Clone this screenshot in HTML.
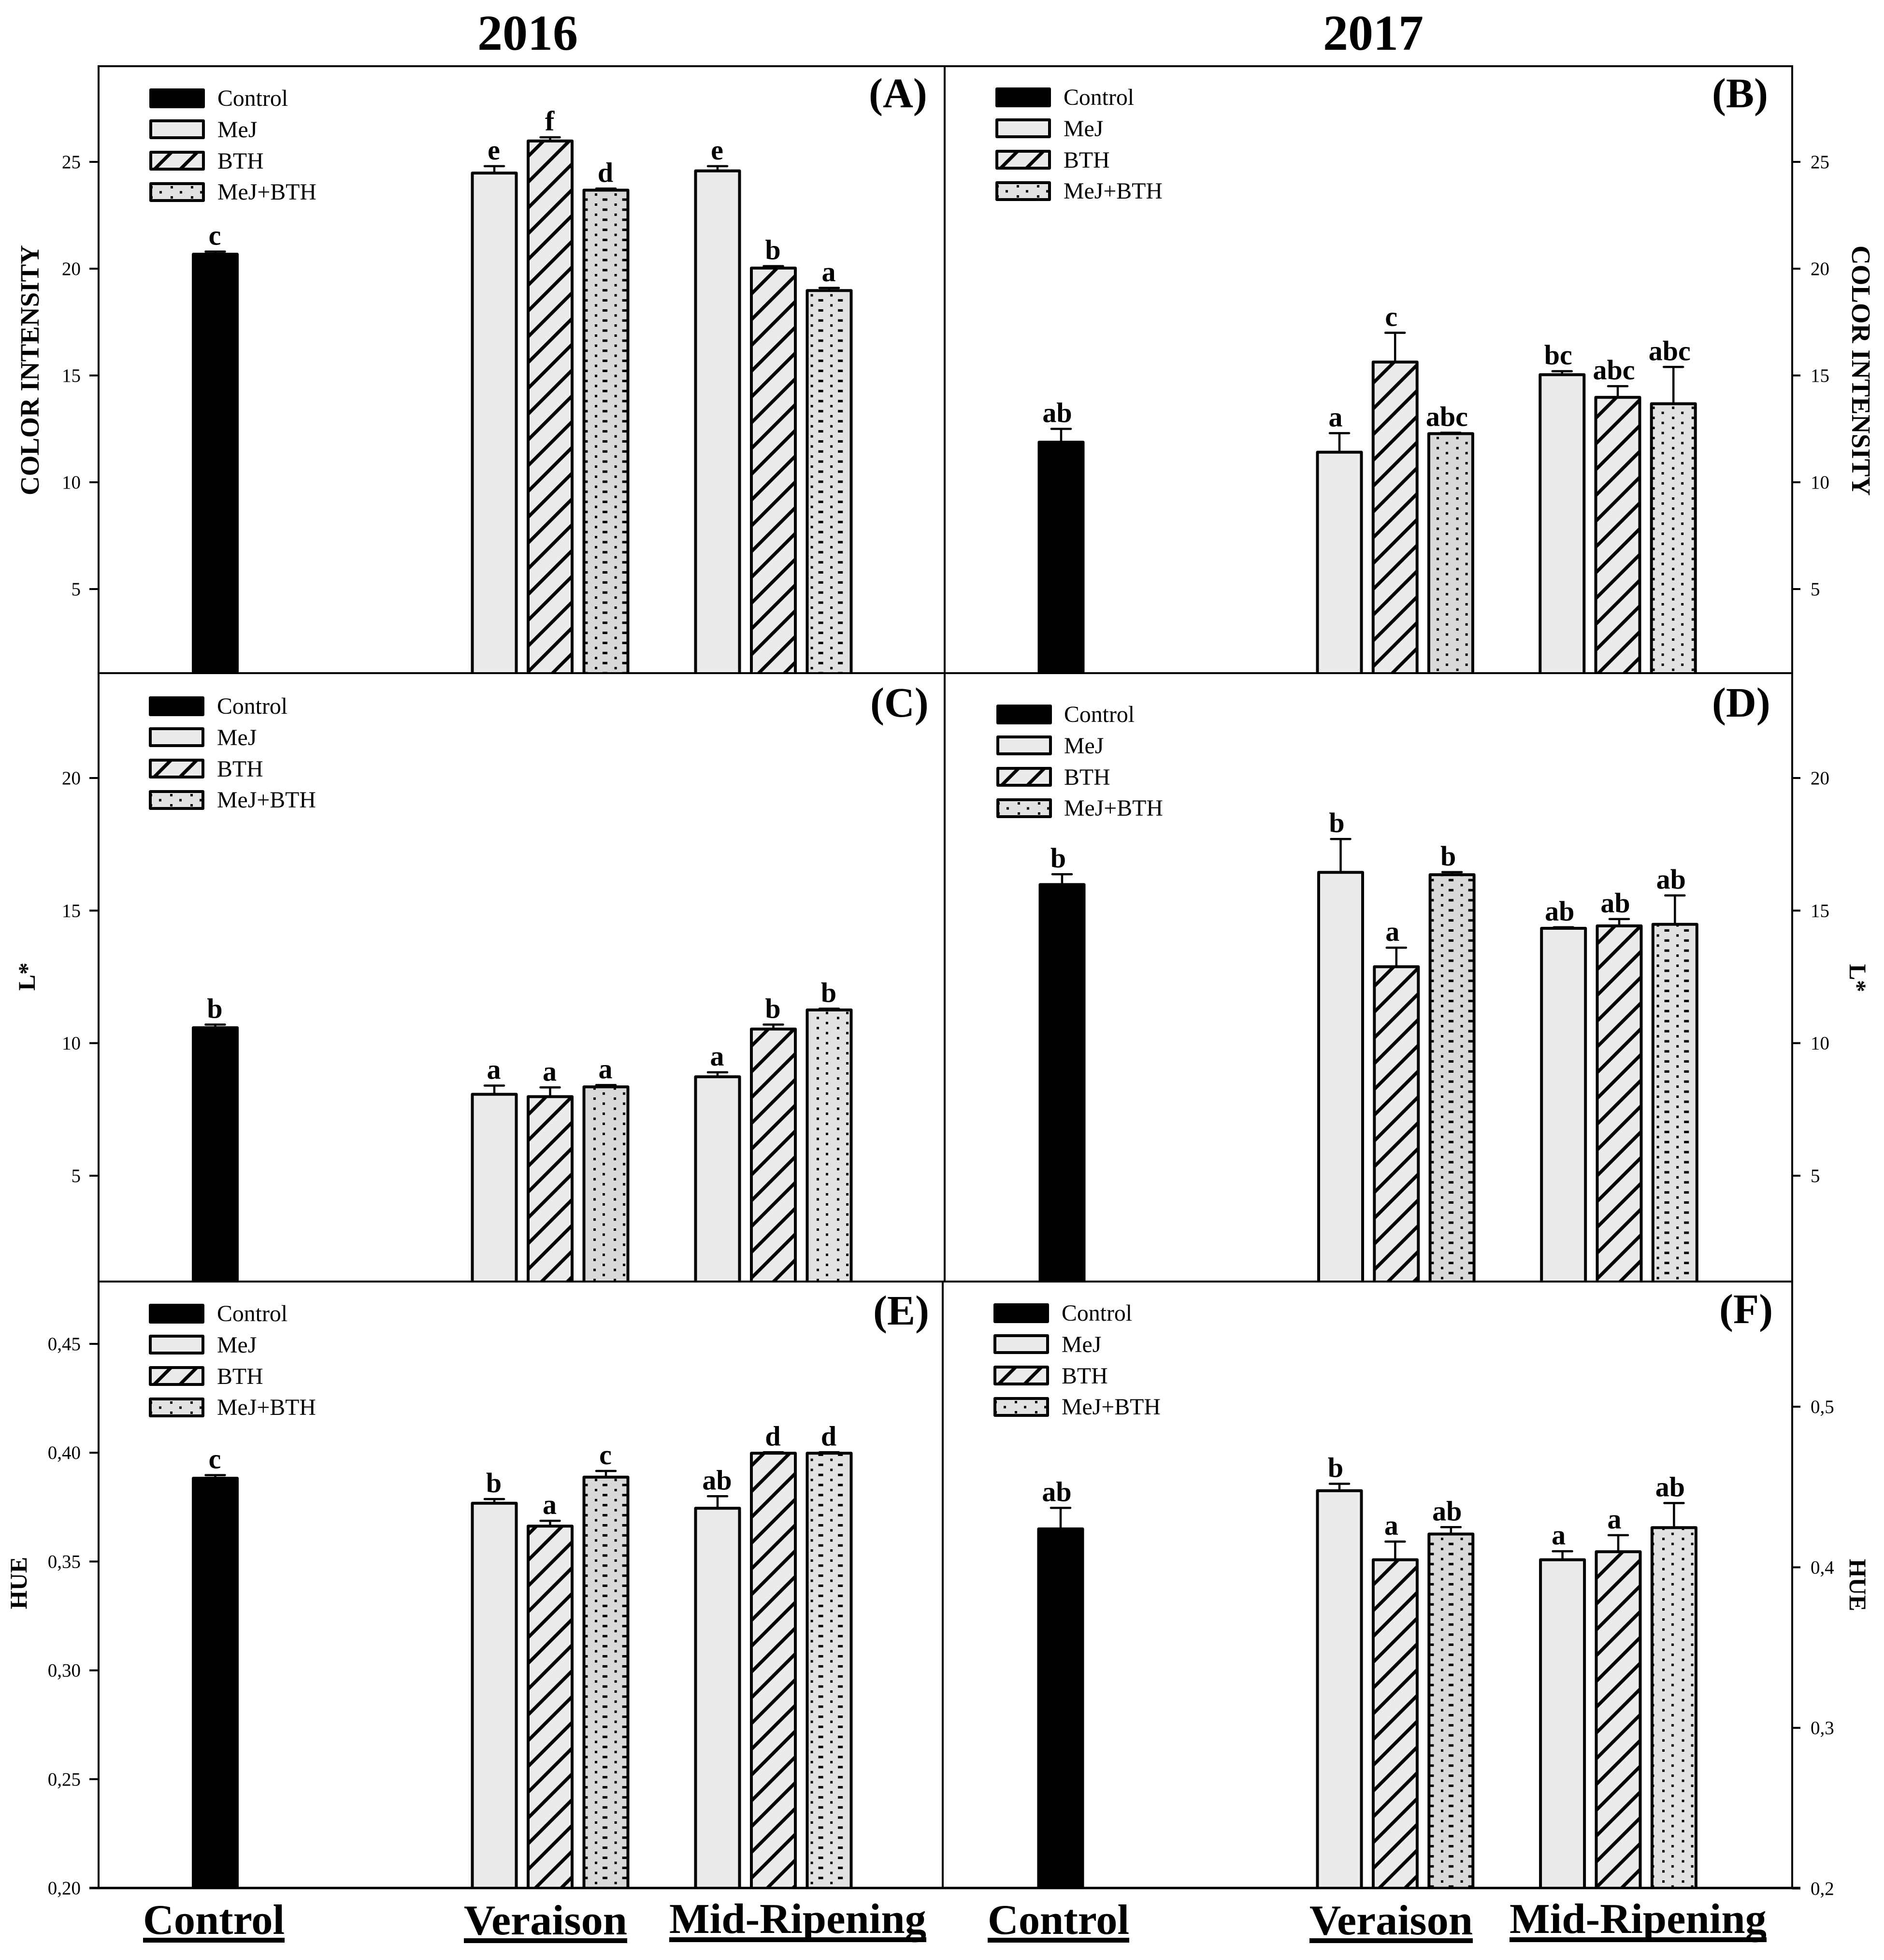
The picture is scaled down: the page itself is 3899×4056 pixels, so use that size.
<!DOCTYPE html>
<html lang="en">
<head>
<meta charset="utf-8">
<title>Color intensity, L* and HUE by treatment, 2016 and 2017</title>
<style>
html,body{margin:0;padding:0;background:#fff;}
svg{display:block;}
text{font-family:"Liberation Serif","DejaVu Serif",serif;fill:#000;}
.lg{font-size:47.8px;}
.pl{font-size:87px;font-weight:bold;}
.yr{font-size:104px;font-weight:bold;text-anchor:middle;}
.cat{font-size:88px;font-weight:bold;}
.at{font-weight:bold;text-anchor:middle;}
</style>
</head>
<body>
<svg id="figure" xmlns="http://www.w3.org/2000/svg" width="3899" height="4056" viewBox="0 0 3899 4056">
<defs>
<path id="hatch-lines" d="M-10,10 L10,-10 M-10,63.33 L63.33,-10 M43.33,63.33 L63.33,43.33" stroke="#000" stroke-width="7" fill="none"/>
<pattern id="hatch-a" patternUnits="userSpaceOnUse" width="53.33" height="53.33" patternTransform="translate(30,0)"><use href="#hatch-lines"/></pattern>
<pattern id="hatch-b" patternUnits="userSpaceOnUse" width="53.33" height="53.33" patternTransform="translate(8,0)"><use href="#hatch-lines"/></pattern>
<pattern id="hatch-c" patternUnits="userSpaceOnUse" width="53.33" height="53.33" patternTransform="translate(40,0)"><use href="#hatch-lines"/></pattern>
<pattern id="hatch-d" patternUnits="userSpaceOnUse" width="53.33" height="53.33" patternTransform="translate(32,0)"><use href="#hatch-lines"/></pattern>
<pattern id="hatch-e" patternUnits="userSpaceOnUse" width="53.33" height="53.33" patternTransform="translate(2,0)"><use href="#hatch-lines"/></pattern>
<pattern id="hatch-f" patternUnits="userSpaceOnUse" width="53.33" height="53.33" patternTransform="translate(42,0)"><use href="#hatch-lines"/></pattern>
<pattern id="hatch-f2" patternUnits="userSpaceOnUse" width="53.33" height="53.33" patternTransform="translate(10,0)"><use href="#hatch-lines"/></pattern>
<pattern id="hatch-legend" patternUnits="userSpaceOnUse" width="53.33" height="53.33" patternTransform="translate(18,0)"><use href="#hatch-lines"/></pattern>

<g id="dot-cell"><rect x="0" y="0" width="5" height="5" fill="#000"/><rect x="16" y="10.4" width="10" height="5" fill="#000"/></g>
<g id="dot-cell-small"><rect x="0" y="0" width="5" height="5" fill="#000"/><rect x="19" y="10.4" width="5" height="5" fill="#000"/></g>
<pattern id="dots-a" patternUnits="userSpaceOnUse" width="40.6" height="20.85" patternTransform="translate(1231,421)"><use href="#dot-cell"/></pattern>
<pattern id="dots-b" patternUnits="userSpaceOnUse" width="40.6" height="20.85" patternTransform="translate(2973,904)"><use href="#dot-cell-small"/></pattern>
<pattern id="dots-c" patternUnits="userSpaceOnUse" width="42" height="20.85" patternTransform="translate(1228,2271)"><use href="#dot-cell-small"/></pattern>
<pattern id="dots-d" patternUnits="userSpaceOnUse" width="40.6" height="20.85" patternTransform="translate(2982,1996)"><use href="#dot-cell"/></pattern>
<pattern id="dots-e" patternUnits="userSpaceOnUse" width="40.6" height="20.85" patternTransform="translate(1231,3081)"><use href="#dot-cell"/></pattern>
<pattern id="dots-f" patternUnits="userSpaceOnUse" width="40.6" height="20.85" patternTransform="translate(2982,3203)"><use href="#dot-cell"/></pattern>
<pattern id="dots-f2" patternUnits="userSpaceOnUse" width="40.6" height="20.85" patternTransform="translate(3440,3203)"><use href="#dot-cell-small"/></pattern>
<pattern id="dots-legend" patternUnits="userSpaceOnUse" width="42" height="21" patternTransform="translate(44,202)"><use href="#dot-cell-small"/></pattern>
</defs>

<text class="yr" x="1092" y="103">2016</text>
<text class="yr" x="2842" y="103">2017</text>

<g id="plot-layer"></g>

<g stroke="#000" fill="none">
<path d="M204,135 V3909" stroke-width="4"/>
<path d="M3709,135 V3909" stroke-width="4"/>
<path d="M1955,137 V2652" stroke-width="4"/>
<path d="M1951,2652 V3907" stroke-width="4"/>
<path d="M202,137 H3711" stroke-width="4"/>
<path d="M204,1393 H3709" stroke-width="4"/>
<path d="M204,2652 H3709" stroke-width="4"/>
<path d="M185,3907 H3726" stroke-width="5"/>
</g>

<g id="ticks-layer"></g>

<!-- Legends -->
<g transform="translate(309,183)">
<rect x="0" y="0" width="115" height="41" rx="3" fill="#000"/>
<text class="lg" x="141" y="36">Control</text>
<rect x="3" y="67" width="109" height="35" fill="#ebebeb" stroke="#000" stroke-width="6" stroke-linejoin="round"/>
<text class="lg" x="141" y="101">MeJ</text>
<rect x="3" y="132" width="109" height="35" fill="#ebebeb"/>
<rect x="3" y="132" width="109" height="35" fill="url(#hatch-legend)" stroke="#000" stroke-width="6" stroke-linejoin="round"/>
<text class="lg" x="141" y="166">BTH</text>
<rect x="3" y="197" width="109" height="35" fill="#e2e2e2"/>
<rect x="3" y="197" width="109" height="35" fill="url(#dots-legend)" stroke="#000" stroke-width="6" stroke-linejoin="round"/>
<text class="lg" x="141" y="230">MeJ+BTH</text>
</g>
<g transform="translate(2060,181)">
<rect x="0" y="0" width="115" height="41" rx="3" fill="#000"/>
<text class="lg" x="141" y="36">Control</text>
<rect x="3" y="67" width="109" height="35" fill="#ebebeb" stroke="#000" stroke-width="6" stroke-linejoin="round"/>
<text class="lg" x="141" y="101">MeJ</text>
<rect x="3" y="132" width="109" height="35" fill="#ebebeb"/>
<rect x="3" y="132" width="109" height="35" fill="url(#hatch-legend)" stroke="#000" stroke-width="6" stroke-linejoin="round"/>
<text class="lg" x="141" y="166">BTH</text>
<rect x="3" y="197" width="109" height="35" fill="#e2e2e2"/>
<rect x="3" y="197" width="109" height="35" fill="url(#dots-legend)" stroke="#000" stroke-width="6" stroke-linejoin="round"/>
<text class="lg" x="141" y="230">MeJ+BTH</text>
</g>
<g transform="translate(308,1441)">
<rect x="0" y="0" width="115" height="41" rx="3" fill="#000"/>
<text class="lg" x="141" y="36">Control</text>
<rect x="3" y="67" width="109" height="35" fill="#ebebeb" stroke="#000" stroke-width="6" stroke-linejoin="round"/>
<text class="lg" x="141" y="101">MeJ</text>
<rect x="3" y="132" width="109" height="35" fill="#ebebeb"/>
<rect x="3" y="132" width="109" height="35" fill="url(#hatch-legend)" stroke="#000" stroke-width="6" stroke-linejoin="round"/>
<text class="lg" x="141" y="166">BTH</text>
<rect x="3" y="197" width="109" height="35" fill="#e2e2e2"/>
<rect x="3" y="197" width="109" height="35" fill="url(#dots-legend)" stroke="#000" stroke-width="6" stroke-linejoin="round"/>
<text class="lg" x="141" y="230">MeJ+BTH</text>
</g>
<g transform="translate(2062,1458)">
<rect x="0" y="0" width="115" height="41" rx="3" fill="#000"/>
<text class="lg" x="140" y="36">Control</text>
<rect x="3" y="67" width="109" height="35" fill="#ebebeb" stroke="#000" stroke-width="6" stroke-linejoin="round"/>
<text class="lg" x="140" y="101">MeJ</text>
<rect x="3" y="132" width="109" height="35" fill="#ebebeb"/>
<rect x="3" y="132" width="109" height="35" fill="url(#hatch-legend)" stroke="#000" stroke-width="6" stroke-linejoin="round"/>
<text class="lg" x="140" y="166">BTH</text>
<rect x="3" y="197" width="109" height="35" fill="#e2e2e2"/>
<rect x="3" y="197" width="109" height="35" fill="url(#dots-legend)" stroke="#000" stroke-width="6" stroke-linejoin="round"/>
<text class="lg" x="140" y="230">MeJ+BTH</text>
</g>
<g transform="translate(308,2698)">
<rect x="0" y="0" width="115" height="41" rx="3" fill="#000"/>
<text class="lg" x="141" y="36">Control</text>
<rect x="3" y="67" width="109" height="35" fill="#ebebeb" stroke="#000" stroke-width="6" stroke-linejoin="round"/>
<text class="lg" x="141" y="101">MeJ</text>
<rect x="3" y="132" width="109" height="35" fill="#ebebeb"/>
<rect x="3" y="132" width="109" height="35" fill="url(#hatch-legend)" stroke="#000" stroke-width="6" stroke-linejoin="round"/>
<text class="lg" x="141" y="166">BTH</text>
<rect x="3" y="197" width="109" height="35" fill="#e2e2e2"/>
<rect x="3" y="197" width="109" height="35" fill="url(#dots-legend)" stroke="#000" stroke-width="6" stroke-linejoin="round"/>
<text class="lg" x="141" y="230">MeJ+BTH</text>
</g>
<g transform="translate(2056,2697)">
<rect x="0" y="0" width="115" height="41" rx="3" fill="#000"/>
<text class="lg" x="141" y="36">Control</text>
<rect x="3" y="67" width="109" height="35" fill="#ebebeb" stroke="#000" stroke-width="6" stroke-linejoin="round"/>
<text class="lg" x="141" y="101">MeJ</text>
<rect x="3" y="132" width="109" height="35" fill="#ebebeb"/>
<rect x="3" y="132" width="109" height="35" fill="url(#hatch-legend)" stroke="#000" stroke-width="6" stroke-linejoin="round"/>
<text class="lg" x="141" y="166">BTH</text>
<rect x="3" y="197" width="109" height="35" fill="#e2e2e2"/>
<rect x="3" y="197" width="109" height="35" fill="url(#dots-legend)" stroke="#000" stroke-width="6" stroke-linejoin="round"/>
<text class="lg" x="141" y="230">MeJ+BTH</text>
</g>

<!-- Panel letters -->
<text class="pl" x="1798" y="222">(A)</text>
<text class="pl" x="3543" y="222">(B)</text>
<text class="pl" x="1801" y="1483">(C)</text>
<text class="pl" x="3543" y="1483">(D)</text>
<text class="pl" x="1807" y="2741">(E)</text>
<text class="pl" x="3558" y="2738">(F)</text>

<!-- Axis titles -->
<text class="at" font-size="55" transform="translate(80,766) rotate(-90)">COLOR INTENSITY</text>
<text class="at" font-size="55" transform="translate(3833,767) rotate(90)">COLOR INTENSITY</text>
<text class="at" font-size="50" transform="translate(72,2021) rotate(-90)">L*</text>
<text class="at" font-size="50" transform="translate(3828,2024) rotate(90)">L*</text>
<text class="at" font-size="50" transform="translate(55,3276) rotate(-90)">HUE</text>
<text class="at" font-size="50" transform="translate(3828,3280) rotate(90)">HUE</text>

<!-- Stage labels -->
<g>
<text class="cat" x="296" y="4002" textLength="293" lengthAdjust="spacingAndGlyphs">Control</text>
<rect x="296" y="4010" width="293" height="10" fill="#000"/>
<text class="cat" x="960" y="4003" textLength="338" lengthAdjust="spacingAndGlyphs">Veraison</text>
<rect x="960" y="4011" width="338" height="10" fill="#000"/>
<text class="cat" x="1385" y="4000" textLength="532" lengthAdjust="spacingAndGlyphs">Mid-Ripening</text>
<rect x="1385" y="4009" width="532" height="10" fill="#000"/>
</g>
<g>
<text class="cat" x="2044" y="4002" textLength="293" lengthAdjust="spacingAndGlyphs">Control</text>
<rect x="2044" y="4010" width="293" height="10" fill="#000"/>
<text class="cat" x="2710" y="4003" textLength="338" lengthAdjust="spacingAndGlyphs">Veraison</text>
<rect x="2710" y="4011" width="338" height="10" fill="#000"/>
<text class="cat" x="3124" y="4000" textLength="532" lengthAdjust="spacingAndGlyphs">Mid-Ripening</text>
<rect x="3124" y="4009" width="532" height="10" fill="#000"/>
</g>
</svg>

<script>
// ---- Chart data ----
const treatments = ['control', 'mej', 'bth', 'combo', 'mej', 'bth', 'combo'];
const stages = ['control', 'veraison', 'veraison', 'veraison', 'mid-ripening', 'mid-ripening', 'mid-ripening'];

const colorTicks = [5, 10, 15, 20, 25];
const colorTickLabels = ['5', '10', '15', '20', '25'];
const lightTicks = [5, 10, 15, 20];
const lightTickLabels = ['5', '10', '15', '20'];
const hueTicks2016 = [0.20, 0.25, 0.30, 0.35, 0.40, 0.45];
const hueTickLabels2016 = ['0,20', '0,25', '0,30', '0,35', '0,40', '0,45'];
const hueTicks2017 = [0.2, 0.3, 0.4, 0.5];
const hueTickLabels2017 = ['0,2', '0,3', '0,4', '0,5'];

const valuesA = [20.7, 24.5, 26.0, 23.7, 24.6, 20.05, 19.0];
const errorsA = [0.1, 0.3, 0.15, 0.05, 0.2, 0.07, 0.1];
const lettersA = ['c', 'e', 'f', 'd', 'e', 'b', 'a'];

const valuesB = [11.9, 11.43, 15.65, 12.3, 15.06, 14.0, 13.7];
const errorsB = [0.6, 0.87, 1.35, 0.02, 0.14, 0.5, 1.7];
const lettersB = ['ab', 'a', 'c', 'abc', 'bc', 'abc', 'abc'];

const valuesC = [10.6, 8.09, 8.0, 8.37, 8.75, 10.55, 11.27];
const errorsC = [0.1, 0.31, 0.33, 0.05, 0.15, 0.15, 0.03];
const lettersC = ['b', 'a', 'a', 'a', 'a', 'b', 'b'];

const valuesD = [16.0, 16.46, 12.9, 16.37, 14.35, 14.44, 14.5];
const errorsD = [0.37, 1.24, 0.7, 0.08, 0.02, 0.24, 1.07];
const lettersD = ['b', 'b', 'a', 'b', 'ab', 'ab', 'ab'];

const valuesE = [0.3885, 0.377, 0.3665, 0.389, 0.3747, 0.400, 0.400];
const errorsE = [0.0012, 0.0017, 0.0022, 0.0026, 0.0053, 0.0002, 0.0002];
const lettersE = ['c', 'b', 'a', 'c', 'ab', 'd', 'd'];

const valuesF = [0.4242, 0.448, 0.405, 0.421, 0.405, 0.410, 0.425];
const errorsF = [0.0128, 0.004, 0.011, 0.004, 0.005, 0.010, 0.015];
const lettersF = ['ab', 'b', 'a', 'ab', 'a', 'a', 'ab'];

// ---- Axis functions ----
function linearScale(v0, p0, v1, p1) {
  return function (v) { return p0 + (v - v0) * (p1 - p0) / (v1 - v0); };
}
function slotOf(i) {
  if (i === 0) return 0;
  return i <= 3 ? i + 4 : i + 5;
}
function bandScale(origin, step) {
  return function (i) { return origin + step * slotOf(i); };
}

const yColor = linearScale(5, 1219, 25, 335);
const yLight = linearScale(5, 2433, 20, 1610);
const yHue2016 = linearScale(0.20, 3907, 0.45, 2781);
const yHue2017 = linearScale(0.2, 3908, 0.5, 2911);
const xLeft = bandScale(445.5, 115.5);
const xRightB = bandScale(2196, 115.2);
const xRightD = bandScale(2198, 115.3);
const xRightF = bandScale(2195, 115.4);

const SVG_NS = 'http://www.w3.org/2000/svg';
const plotLayer = document.getElementById('plot-layer');
const ticksLayer = document.getElementById('ticks-layer');

function make(tag, parent, attrs) {
  const el = document.createElementNS(SVG_NS, tag);
  for (const k in attrs) el.setAttribute(k, attrs[k]);
  parent.appendChild(el);
  return el;
}

const BAR_W = 91;
const FILLS = { control: '#000000', mej: '#ebebeb', bth: '#ebebeb', combo: '#d9d9d9' };

function drawPanel(p) {
  const group = make('g', plotLayer, {});
  
  

  p.values.forEach(function (value, i) {
    const cx = p.x(i);
    const top = p.y(value) + 1;
    const left = cx - BAR_W / 2;
    const barGroup = make('g', group, {});
    
    

    const kind = treatments[i];
    let fill = FILLS[kind];
    if (kind === 'combo' && i > 3) fill = '#e2e2e2';
    const base = make('rect', barGroup, { x: left, y: top, width: BAR_W, height: p.base - top, fill: fill });
    
    

    if (kind === 'bth' || kind === 'combo') {
      const later = i > 3 && p.hasSecondPattern ? '2' : '';
      const patternId = (kind === 'bth' ? 'hatch-' : 'dots-') + p.id + later;
      const overlay = make('rect', barGroup, { x: left, y: top, width: BAR_W, height: p.base - top, fill: 'url(#' + patternId + ')' });
      
      
    }

    const outline = make('path', barGroup, { d: 'M' + left + ',' + p.base + ' V' + top + ' H' + (left + BAR_W) + ' V' + p.base, fill: 'none', stroke: '#000', 'stroke-width': 6, 'stroke-linejoin': 'round' });
    
    

    const errTop = p.y(value + p.errors[i]);
    const whisker = make('path', barGroup, { d: 'M' + cx + ',' + top + ' V' + errTop + ' M' + (cx - 20) + ',' + errTop + ' H' + (cx + 20), fill: 'none', stroke: '#000', 'stroke-width': 4.5, 'stroke-linecap': 'round' });
    
    

    const letter = make('text', barGroup, { x: cx + p.letterDx, y: errTop - 14, 'font-size': 58, 'font-weight': 'bold', 'text-anchor': 'middle' });
    
    
    letter.textContent = p.letters[i];
  });

  p.ticks.forEach(function (tick, i) {
    const py = p.y(tick);
    const mark = make('path', ticksLayer, {
      d: p.side === 'left' ? 'M185,' + py + ' H204' : 'M3709,' + py + ' H3726',
      stroke: '#000', 'stroke-width': 4, fill: 'none'
    });
    
    

    const label = make('text', ticksLayer, {
      x: p.side === 'left' ? 167 : 3747,
      y: py + 13,
      'font-size': 39,
      'text-anchor': p.side === 'left' ? 'end' : 'start'
    });
    
    
    label.textContent = p.tickLabels[i];
  });
}

drawPanel({ id: 'a', values: valuesA, errors: errorsA, letters: lettersA, ticks: colorTicks, tickLabels: colorTickLabels, y: yColor, x: xLeft, base: 1393, side: 'left', letterDx: -1 });
drawPanel({ id: 'b', values: valuesB, errors: errorsB, letters: lettersB, ticks: colorTicks, tickLabels: colorTickLabels, y: yColor, x: xRightB, base: 1393, side: 'right', letterDx: -8 });
drawPanel({ id: 'c', values: valuesC, errors: errorsC, letters: lettersC, ticks: lightTicks, tickLabels: lightTickLabels, y: yLight, x: xLeft, base: 2652, side: 'left', letterDx: -1 });
drawPanel({ id: 'd', values: valuesD, errors: errorsD, letters: lettersD, ticks: lightTicks, tickLabels: lightTickLabels, y: yLight, x: xRightD, base: 2652, side: 'right', letterDx: -8 });
drawPanel({ id: 'e', values: valuesE, errors: errorsE, letters: lettersE, ticks: hueTicks2016, tickLabels: hueTickLabels2016, y: yHue2016, x: xLeft, base: 3907, side: 'left', letterDx: -1 });
drawPanel({ id: 'f', values: valuesF, errors: errorsF, letters: lettersF, ticks: hueTicks2017, tickLabels: hueTickLabels2017, y: yHue2017, x: xRightF, base: 3907, side: 'right', letterDx: -8, hasSecondPattern: true });
</script>
</body>
</html>
